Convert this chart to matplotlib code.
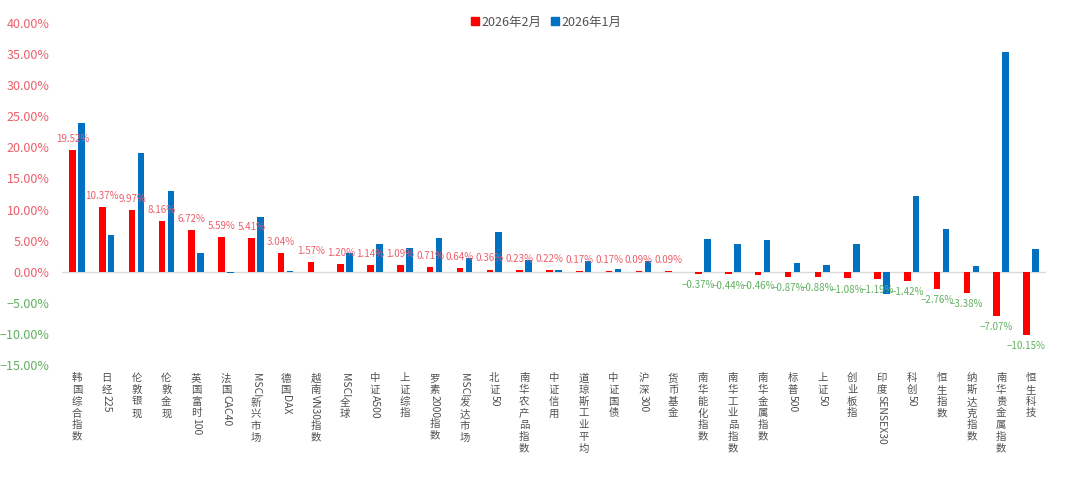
import matplotlib
matplotlib.use("Agg")
import matplotlib.pyplot as plt
from matplotlib.font_manager import FontProperties
from matplotlib.patches import Patch
from matplotlib.textpath import TextPath
import numpy as np

plt.rcParams['font.family'] = ['Noto Sans CJK SC', 'DejaVu Sans']

categories = ['韩国综合指数', '日经225', '伦敦银现', '伦敦金现', '英国富时100', '法国CAC40',
              'MSCI新兴市场', '德国DAX', '越南VN30指数', 'MSCI全球', '中证A500', '上证综指',
              '罗素2000指数', 'MSCI发达市场', '北证50', '南华农产品指数', '中证信用',
              '道琼斯工业平均', '中证国债', '沪深300', '货币基金', '南华能化指数',
              '南华工业品指数', '南华金属指数', '标普500', '上证50', '创业板指',
              '印度SENSEX30', '科创50', '恒生指数', '纳斯达克指数', '南华贵金属指数', '恒生科技']

feb_2026 = [19.52, 10.37, 9.97, 8.16, 6.72, 5.59, 5.41, 3.04, 1.57, 1.20, 1.14, 1.09,
            0.71, 0.64, 0.36, 0.23, 0.22, 0.17, 0.17, 0.09, 0.09, -0.37, -0.44, -0.46,
            -0.87, -0.88, -1.08, -1.19, -1.42, -2.76, -3.38, -7.07, -10.15]

jan_2026 = [23.98, 5.94, 19.10, 13.06, 2.94, -0.27, 8.78, 0.15, 0.0, 2.94, 4.50, 3.75,
            5.35, 2.25, 6.37, 1.82, 0.27, 1.66, 0.37, 1.66, 0.0, 5.19, 4.50, 5.14,
            1.34, 1.12, 4.50, -3.53, 12.26, 6.80, 0.86, 35.28, 3.69]

RED = '#FF0000'
BLUE = '#0070C0'
POS_TXT = '#EC5F6A'
NEG_TXT = '#5FB05F'
AX_TXT = '#505050'

fig = plt.figure(figsize=(10.8, 4.82), dpi=100)
ax = fig.add_axes([0.0574, 0.2427, 0.911, 0.7095])

x = np.arange(len(categories))
w = 0.22
ax.bar(x - 0.15, feb_2026, w, color=RED, zorder=3)
ax.bar(x + 0.15, jan_2026, w, color=BLUE, zorder=3)
ax.axhline(0, color='#D9D9D9', lw=1, zorder=2)

# data labels for Feb
for i, v in enumerate(feb_2026):
    off = 8 if v >= 0 else -8
    ax.annotate(f'{v:.2f}%'.replace('-', '\u2212'), xy=(i - 0.15, v), xytext=(0, off),
                textcoords='offset points', ha='center', va='center',
                fontsize=7, color=POS_TXT if v >= 0 else NEG_TXT, zorder=4)

ax.set_xlim(-0.5, len(categories) - 0.5)
ax.set_ylim(-15, 40)
yt = np.arange(-15, 41, 5)
ax.set_yticks(yt)
ax.set_yticklabels([f'{t:.2f}%'.replace('-', '\u2212') for t in yt], fontsize=9)
for lab, t in zip(ax.get_yticklabels(), yt):
    lab.set_color(POS_TXT if t >= 0 else NEG_TXT)
ax.tick_params(axis='y', length=0, pad=9)
ax.set_xticks([])
for s in ax.spines.values():
    s.set_visible(False)

# vertical stacked category labels (CJK upright, latin runs rotated)
fs = 7.5
fp = FontProperties(family='Noto Sans CJK SC', size=fs)
for i, name in enumerate(categories):
    runs = []
    for ch in name:
        if ord(ch) < 128 and runs and runs[-1][1]:
            runs[-1][0] += ch
        else:
            runs.append([ch, ord(ch) < 128])
    y = 6
    for k, (txt, latin) in enumerate(runs):
        if latin:
            if k > 0:
                y -= 1.5
            ax.annotate(txt, xy=(i, 0), xycoords=('data', 'axes fraction'),
                        xytext=(0, -y), textcoords='offset points', rotation=-90,
                        ha='center', va='top', fontsize=fs, color=AX_TXT,
                        annotation_clip=False)
            y += TextPath((0, 0), txt, size=fs, prop=fp).get_extents().width + 1.5
        else:
            ax.annotate(txt, xy=(i, 0), xycoords=('data', 'axes fraction'),
                        xytext=(0, -y), textcoords='offset points',
                        ha='center', va='top', fontsize=fs, color=AX_TXT,
                        annotation_clip=False)
            y += 8.4

handles = [Patch(color=RED, label='2026年2月'), Patch(color=BLUE, label='2026年1月')]
fig.legend(handles=handles, loc='center', bbox_to_anchor=(0.506, 0.954), ncol=2,
           frameon=False, fontsize=9, handlelength=0.6, handleheight=0.6,
           handletextpad=0.2, columnspacing=0.8, labelcolor=AX_TXT)

fig.savefig('out.png', dpi=100)
